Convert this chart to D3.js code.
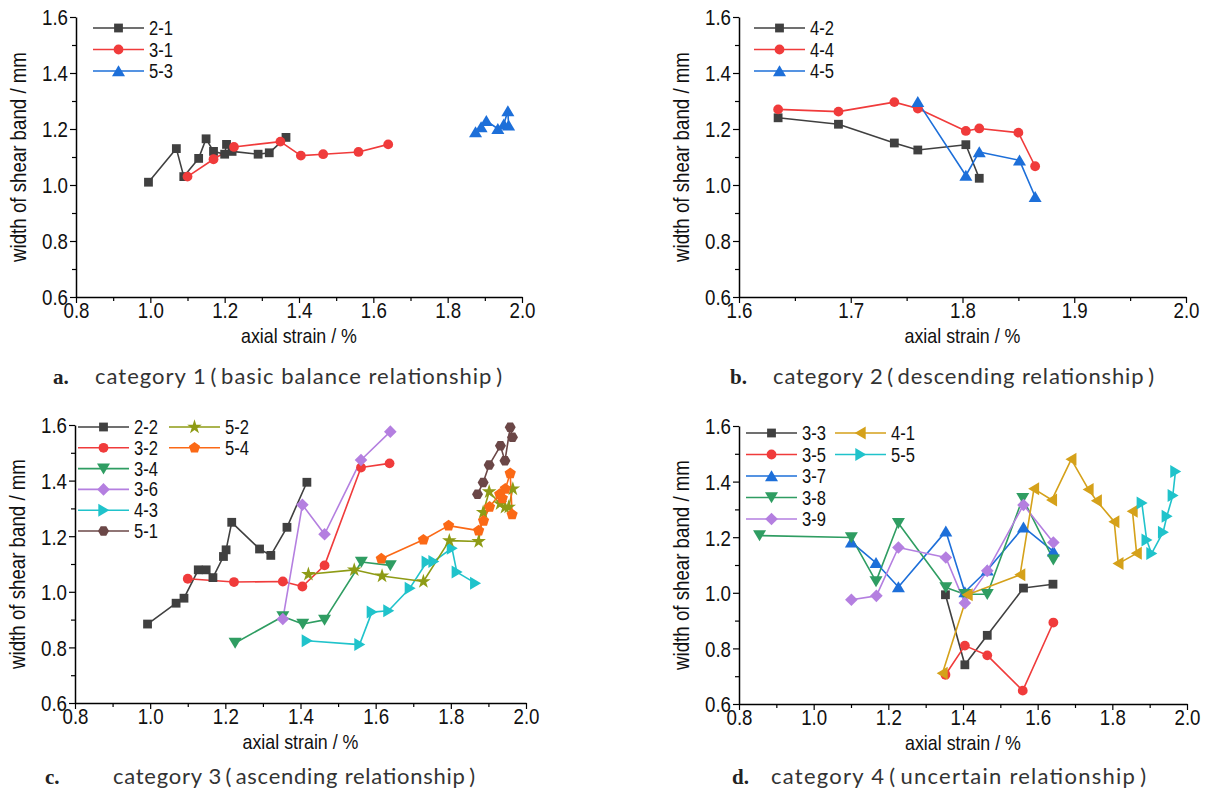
<!DOCTYPE html>
<html>
<head>
<meta charset="utf-8">
<script src="https://cdn.jsdelivr.net/npm/d3@7"></script>
<style>
  html, body { margin: 0; padding: 0; background: #fff; }
  svg { display: block; }
</style>
</head>
<body>
<svg id="chart" width="1206" height="794"></svg>
<script>
// ---- axial strain (%) and shear band width (mm) per specimen ----
// category 1
const strain21 = [0.995, 1.07, 1.09, 1.13, 1.15, 1.17, 1.20, 1.205, 1.22, 1.29, 1.32, 1.365];
const width21  = [1.010, 1.13, 1.03, 1.095, 1.165, 1.12, 1.11, 1.145, 1.12, 1.11, 1.115, 1.17];
const strain31 = [1.10, 1.17, 1.225, 1.35, 1.405, 1.465, 1.56, 1.64];
const width31  = [1.03, 1.092, 1.136, 1.155, 1.105, 1.11, 1.118, 1.145];
const strain53 = [1.875, 1.89, 1.904, 1.935, 1.951, 1.962, 1.964];
const width53  = [1.189, 1.207, 1.229, 1.201, 1.217, 1.264, 1.213];
// category 2
const strain42 = [1.635, 1.689, 1.739, 1.760, 1.803, 1.815];
const width42  = [1.240, 1.217, 1.150, 1.125, 1.144, 1.024];
const strain44 = [1.635, 1.689, 1.739, 1.760, 1.803, 1.815, 1.850, 1.865];
const width44  = [1.270, 1.262, 1.296, 1.273, 1.193, 1.202, 1.187, 1.067];
const strain45 = [1.760, 1.803, 1.815, 1.851, 1.865];
const width45  = [1.297, 1.034, 1.118, 1.088, 0.958];
// category 3
const strain22 = [0.993, 1.069, 1.090, 1.128, 1.149, 1.167, 1.195, 1.202, 1.217, 1.291, 1.321, 1.364, 1.417];
const width22  = [0.884, 0.959, 0.977, 1.079, 1.079, 1.051, 1.127, 1.151, 1.250, 1.154, 1.131, 1.232, 1.394];
const strain32 = [1.100, 1.223, 1.353, 1.405, 1.464, 1.561, 1.637];
const width32  = [1.047, 1.035, 1.037, 1.019, 1.095, 1.447, 1.462];
const strain34 = [1.226, 1.353, 1.406, 1.464, 1.562, 1.639];
const width34  = [0.816, 0.911, 0.884, 0.899, 1.107, 1.095];
const strain36 = [1.353, 1.405, 1.464, 1.561, 1.639];
const width36  = [0.902, 1.313, 1.207, 1.474, 1.576];
const strain43 = [1.417, 1.557, 1.590, 1.634, 1.691, 1.736, 1.754, 1.803, 1.816, 1.865];
const width43  = [0.824, 0.810, 0.927, 0.932, 1.013, 1.107, 1.109, 1.157, 1.071, 1.031];
const strain51 = [1.871, 1.886, 1.902, 1.932, 1.944, 1.958, 1.964];
const width51  = [1.351, 1.393, 1.456, 1.525, 1.471, 1.592, 1.556];
const strain52 = [1.421, 1.543, 1.617, 1.727, 1.796, 1.874, 1.886, 1.902, 1.931, 1.944, 1.954, 1.965];
const width52  = [1.063, 1.079, 1.057, 1.037, 1.184, 1.181, 1.286, 1.360, 1.317, 1.304, 1.305, 1.370];
const strain54 = [1.615, 1.727, 1.794, 1.874, 1.887, 1.903, 1.930, 1.937, 1.945, 1.958, 1.963];
const width54  = [1.119, 1.187, 1.238, 1.220, 1.255, 1.305, 1.351, 1.336, 1.370, 1.426, 1.278];
// category 4
const strain33 = [1.353, 1.405, 1.465, 1.562, 1.641];
const width33  = [0.993, 0.741, 0.847, 1.017, 1.031];
const strain35 = [1.353, 1.405, 1.465, 1.560, 1.642];
const width35  = [0.705, 0.810, 0.775, 0.648, 0.893];
const strain37 = [1.101, 1.167, 1.227, 1.354, 1.405, 1.465, 1.562, 1.642];
const width37  = [1.182, 1.108, 1.021, 1.221, 1.003, 1.081, 1.236, 1.149];
const strain38 = [0.855, 1.101, 1.167, 1.227, 1.354, 1.405, 1.465, 1.560, 1.642];
const width38  = [1.206, 1.199, 1.041, 1.250, 1.019, 0.995, 0.995, 1.340, 1.119];
const strain39 = [1.101, 1.168, 1.227, 1.354, 1.405, 1.465, 1.562, 1.642];
const width39  = [0.975, 0.989, 1.163, 1.127, 0.963, 1.079, 1.316, 1.181];
const strain41 = [1.345, 1.412, 1.553, 1.590, 1.638, 1.690, 1.736, 1.758, 1.805, 1.816, 1.865, 1.854];
const width41  = [0.711, 0.993, 1.065, 1.374, 1.334, 1.480, 1.372, 1.331, 1.256, 1.105, 1.142, 1.293];
const strain55 = [1.879, 1.892, 1.905, 1.936, 1.946, 1.962, 1.969];
const width55  = [1.323, 1.190, 1.141, 1.218, 1.275, 1.350, 1.436];

// axis ticks
const xTicksWide   = [0.8, 1.0, 1.2, 1.4, 1.6, 1.8, 2.0];
const xTicksNarrow = [1.6, 1.7, 1.8, 1.9, 2.0];
const yTicks       = [0.6, 0.8, 1.0, 1.2, 1.4, 1.6];

// captions
const captionLetters = ["a.", "b.", "c.", "d."];
const captionTexts = [
  "category 1\u2009(\u2009basic balance relationship\u2009)",
  "category 2\u2009(\u2009descending relationship\u2009)",
  "category 3\u2009(\u2009ascending relationship\u2009)",
  "category 4\u2009(\u2009uncertain relationship\u2009)"
];

// ---- styles ----
const COLORS = {
  gray: "#404040", red: "#f03b3b", blue: "#1d6fd9", green: "#2f9d62",
  purple: "#b47fe0", cyan: "#20c3cb", brown: "#6b4747", olive: "#8e9b15",
  orange: "#fb6916", gold: "#d5a11a"
};
const SANS = "'Liberation Sans',Arial,sans-serif";
const SQUEEZE = 0.85;   // condensed look for axis and legend lettering

function ser(name, xs, ys, color, shape) {
  return { name, color, shape, pts: xs.map((x, i) => [x, ys[i]]) };
}

const panels = [
  {
    box: { x0: 76, x1: 522, y0: 17, y1: 297 }, xDomain: [0.8, 2.0], xTicks: xTicksWide, xStep: 0.1,
    legend: { x: 93, y: 28, dy: 21.5, cols: [3], colDx: 0 },
    caption: { lx: 53, tx: 95, y: 384, len: 407 },
    series: [
      ser("2-1", strain21, width21, COLORS.gray, "square"),
      ser("3-1", strain31, width31, COLORS.red, "circle"),
      ser("5-3", strain53, width53, COLORS.blue, "triUp")
    ]
  },
  {
    box: { x0: 739, x1: 1186, y0: 17, y1: 297 }, xDomain: [1.6, 2.0], xTicks: xTicksNarrow, xStep: 0.05,
    legend: { x: 754, y: 28, dy: 21.5, cols: [3], colDx: 0 },
    caption: { lx: 730, tx: 773, y: 384, len: 381 },
    series: [
      ser("4-2", strain42, width42, COLORS.gray, "square"),
      ser("4-4", strain44, width44, COLORS.red, "circle"),
      ser("4-5", strain45, width45, COLORS.blue, "triUp")
    ]
  },
  {
    box: { x0: 75, x1: 526, y0: 425, y1: 703 }, xDomain: [0.8, 2.0], xTicks: xTicksWide, xStep: 0.1,
    legend: { x: 78, y: 427, dy: 20.8, cols: [6, 2], colDx: 91 },
    caption: { lx: 45, tx: 113, y: 784, len: 362 },
    series: [
      ser("2-2", strain22, width22, COLORS.gray, "square"),
      ser("3-2", strain32, width32, COLORS.red, "circle"),
      ser("3-4", strain34, width34, COLORS.green, "triDown"),
      ser("3-6", strain36, width36, COLORS.purple, "diamond"),
      ser("4-3", strain43, width43, COLORS.cyan, "triRight"),
      ser("5-1", strain51, width51, COLORS.brown, "hexagon"),
      ser("5-2", strain52, width52, COLORS.olive, "star"),
      ser("5-4", strain54, width54, COLORS.orange, "pentagon")
    ]
  },
  {
    box: { x0: 739, x1: 1187, y0: 426, y1: 704 }, xDomain: [0.8, 2.0], xTicks: xTicksWide, xStep: 0.1,
    legend: { x: 746, y: 433, dy: 21.5, cols: [5, 2], colDx: 89 },
    caption: { lx: 732, tx: 771, y: 784, len: 375 },
    series: [
      ser("3-3", strain33, width33, COLORS.gray, "square"),
      ser("3-5", strain35, width35, COLORS.red, "circle"),
      ser("3-7", strain37, width37, COLORS.blue, "triUp"),
      ser("3-8", strain38, width38, COLORS.green, "triDown"),
      ser("3-9", strain39, width39, COLORS.purple, "diamond"),
      ser("4-1", strain41, width41, COLORS.gold, "triLeft"),
      ser("5-5", strain55, width55, COLORS.cyan, "triRight")
    ]
  }
];

// ---- marker shapes ----
function poly(points) {
  return "M" + points.map(p => p[0].toFixed(2) + "," + p[1].toFixed(2)).join("L") + "Z";
}
function regular(n, r, rot) {
  const pts = [];
  for (let i = 0; i < n; i++) {
    const a = rot + i * 2 * Math.PI / n;
    pts.push([r * Math.cos(a), r * Math.sin(a)]);
  }
  return poly(pts);
}
function markerPath(shape) {
  switch (shape) {
    case "square":   return poly([[-4.4, -4.4], [4.4, -4.4], [4.4, 4.4], [-4.4, 4.4]]);
    case "circle":   return d3.symbol(d3.symbolCircle, Math.PI * 4.9 * 4.9)();
    case "triUp":    return poly([[0, -5.8], [6.5, 5.2], [-6.5, 5.2]]);
    case "triDown":  return poly([[0, 5.8], [6.5, -5.2], [-6.5, -5.2]]);
    case "triRight": return poly([[5.8, 0], [-5.2, 6.5], [-5.2, -6.5]]);
    case "triLeft":  return poly([[-5.8, 0], [5.2, 6.5], [5.2, -6.5]]);
    case "diamond":  return poly([[0, -6.3], [6.3, 0], [0, 6.3], [-6.3, 0]]);
    case "hexagon":  return regular(6, 5.5, 0);
    case "pentagon": return regular(5, 5.9, -Math.PI / 2);
    case "star":     return d3.symbol(d3.symbolStar, 66)();
  }
}

const svg = d3.select("#chart");
svg.append("rect").attr("width", 1206).attr("height", 794).attr("fill", "#fff");

function minorTicks(domain, step) {
  const out = [];
  const n = Math.round((domain[1] - domain[0]) / step);
  for (let i = 1; i < n; i += 2) out.push(+(domain[0] + i * step).toFixed(4));
  return out;
}

panels.forEach((p, pi) => {
  const b = p.box;
  const x = d3.scaleLinear().domain(p.xDomain).range([b.x0, b.x1]);
  const y = d3.scaleLinear().domain([0.6, 1.6]).range([b.y1, b.y0]);
  const g = svg.append("g");

  // minor ticks
  g.append("g").attr("transform", `translate(0,${b.y1})`)
    .call(d3.axisBottom(x).tickValues(minorTicks(p.xDomain, p.xStep)).tickSize(4).tickSizeOuter(0).tickFormat(""))
    .call(s => s.select(".domain").remove());
  g.append("g").attr("transform", `translate(${b.x0},0)`)
    .call(d3.axisLeft(y).tickValues(minorTicks([0.6, 1.6], 0.1)).tickSize(4).tickSizeOuter(0).tickFormat(""))
    .call(s => s.select(".domain").remove());

  // major axes
  const xa = g.append("g").attr("transform", `translate(0,${b.y1})`)
    .call(d3.axisBottom(x).tickValues(p.xTicks).tickSize(6).tickSizeOuter(0).tickFormat(d3.format(".1f")));
  const ya = g.append("g").attr("transform", `translate(${b.x0},0)`)
    .call(d3.axisLeft(y).tickValues(yTicks).tickSize(6).tickSizeOuter(0).tickFormat(d3.format(".1f")));

  [xa, ya].forEach(a => {
    a.select(".domain").attr("stroke", "#000").attr("stroke-width", 1.5);
    a.selectAll(".tick text").attr("font-family", SANS).attr("font-size", 22).attr("fill", "#111");
  });
  xa.selectAll(".tick text").attr("y", 0).attr("dy", 0)
    .attr("transform", `translate(0,21) scale(${SQUEEZE},1)`);
  ya.selectAll(".tick text").attr("x", 0).attr("dy", "0.36em")
    .attr("transform", `translate(-8,0) scale(${SQUEEZE},1)`);
  g.selectAll(".tick line").attr("stroke", "#000").attr("stroke-width", 1.2);

  // axis titles
  g.append("text").attr("transform", `translate(${(b.x0 + b.x1) / 2},${b.y1 + 46}) scale(${SQUEEZE},1)`)
    .attr("text-anchor", "middle").attr("font-family", SANS).attr("font-size", 21).attr("fill", "#111")
    .text("axial strain / %");
  g.append("text").attr("transform", `translate(${b.x0 - 50},${(b.y0 + b.y1) / 2}) rotate(-90) scale(${SQUEEZE},1)`)
    .attr("text-anchor", "middle").attr("font-family", SANS).attr("font-size", 22).attr("fill", "#111")
    .text("width of shear band / mm");

  // series
  const line = d3.line().x(d => x(d[0])).y(d => y(d[1]));
  p.series.forEach(s => {
    g.append("path").datum(s.pts).attr("d", line)
      .attr("fill", "none").attr("stroke", s.color).attr("stroke-width", 1.6).attr("stroke-linejoin", "round");
  });
  p.series.forEach(s => {
    g.append("g").selectAll("path").data(s.pts).join("path")
      .attr("transform", d => `translate(${x(d[0])},${y(d[1])})`)
      .attr("d", markerPath(s.shape)).attr("fill", s.color);
  });

  // legend
  const L = p.legend;
  let idx = 0;
  L.cols.forEach((count, ci) => {
    for (let r = 0; r < count; r++, idx++) {
      const s = p.series[idx];
      const lx = L.x + ci * L.colDx, ly = L.y + r * L.dy;
      const lg = g.append("g").attr("transform", `translate(${lx},${ly})`);
      lg.append("line").attr("x1", 0).attr("x2", 51).attr("y1", 0).attr("y2", 0)
        .attr("stroke", s.color).attr("stroke-width", 1.6);
      lg.append("path").attr("transform", "translate(25.5,0)").attr("d", markerPath(s.shape)).attr("fill", s.color);
      lg.append("text").attr("transform", `translate(56,0) scale(${SQUEEZE},1)`).attr("dy", "0.36em")
        .attr("font-family", SANS).attr("font-size", 19.5).attr("fill", "#111").text(s.name);
    }
  });

  // caption
  const c = p.caption;
  svg.append("text").attr("x", c.lx).attr("y", c.y).attr("font-family", "'Liberation Serif','Times New Roman',serif")
    .attr("font-weight", "bold").attr("font-size", 21).attr("fill", "#222").text(captionLetters[pi]);
  svg.append("text").attr("x", c.tx).attr("y", c.y).attr("font-family", "Lato,'Noto Sans',sans-serif")
    .attr("font-size", 22).attr("fill", "#333")
    .attr("textLength", c.len).attr("lengthAdjust", "spacing")
    .text(captionTexts[pi]);
});
</script>
</body>
</html>
